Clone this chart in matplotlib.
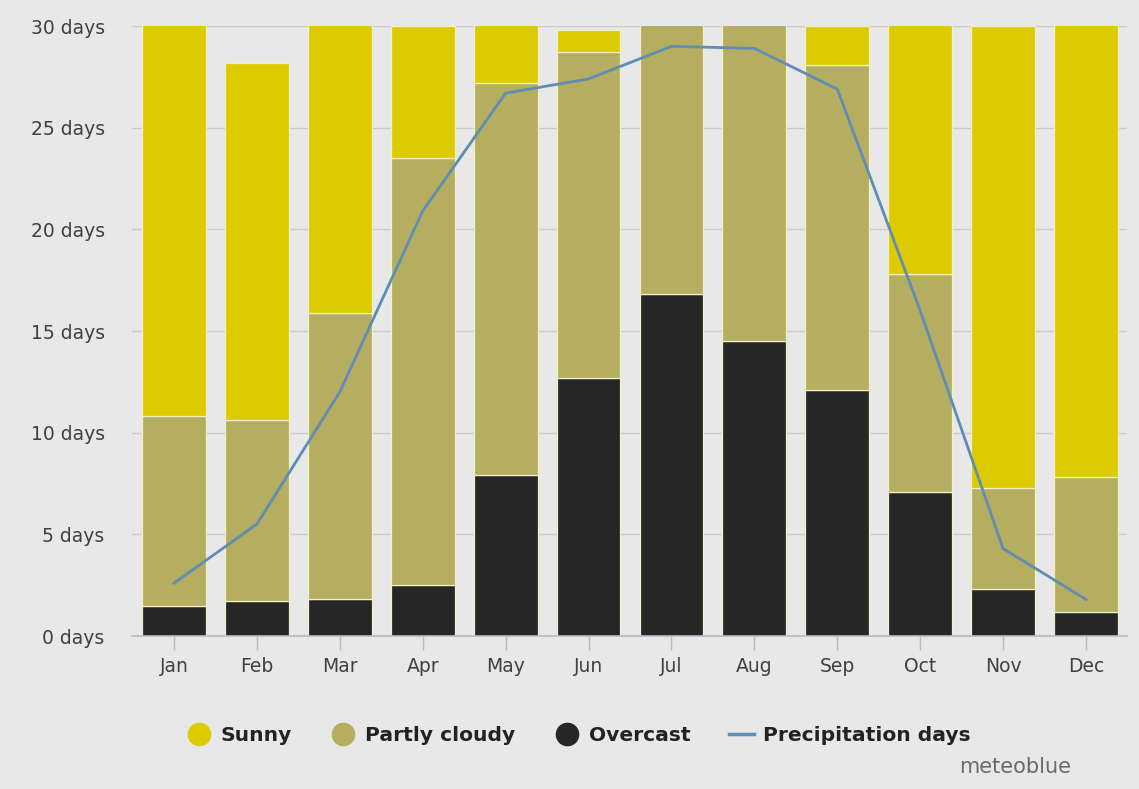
import matplotlib
matplotlib.use("Agg")
import matplotlib.pyplot as plt
from matplotlib.lines import Line2D
import numpy as np

months = ['Jan', 'Feb', 'Mar', 'Apr', 'May', 'Jun', 'Jul', 'Aug', 'Sep', 'Oct', 'Nov', 'Dec']
overcast = [1.5, 1.7, 1.8, 2.5, 7.9, 12.7, 16.8, 14.5, 12.1, 7.1, 2.3, 1.2]
partly_cloudy = [9.3, 8.9, 14.1, 21.0, 19.3, 16.0, 14.2, 16.5, 16.0, 10.7, 5.0, 6.6]
sunny = [20.2, 17.6, 15.1, 6.5, 3.8, 1.1, 0.0, 0.0, 1.9, 13.2, 22.7, 23.2]
precipitation = [2.6, 5.5, 12.0, 20.9, 26.7, 27.4, 29.0, 28.9, 26.9, 16.0, 4.3, 1.8]
yticks = [0, 5, 10, 15, 20, 25, 30]

BG = '#e8e8e8'
C_SUNNY = '#dbcb00'
C_PARTLY = '#b5ad5f'
C_OVER = '#262626'
C_LINE = '#5f8db5'

plt.rcParams['font.family'] = ['DejaVu Sans']

fig = plt.figure(figsize=(11.39, 7.89), dpi=100, facecolor=BG)
ax = fig.add_axes([0.1163, 0.1939, 0.8736, 0.7731])
ax.set_facecolor(BG)

x = np.arange(len(months))
w = 0.77
ov = np.array(overcast)
pc = np.array(partly_cloudy)
sn = np.array(sunny)
edge = dict(edgecolor='#f3f0c8', linewidth=0.9)
ax.bar(x, ov, w, color=C_OVER, zorder=2, **edge)
ax.bar(x, pc, w, bottom=ov, color=C_PARTLY, zorder=2, **edge)
ax.bar(x, sn, w, bottom=ov + pc, color=C_SUNNY, zorder=2, **edge)
ax.plot(x, precipitation, color=C_LINE, lw=2.0, zorder=3, solid_joinstyle='round')

ax.set_xlim(-0.5, len(months) - 0.5)
ax.set_ylim(0, 30)
ax.set_yticks(yticks)
ax.set_yticklabels([f'{v} days' for v in yticks])
ax.set_xticks(x)
ax.set_xticklabels(months)
ax.grid(axis='y', color='#cbcbcb', lw=1.0, zorder=0)
for s in ['top', 'right', 'left']:
    ax.spines[s].set_visible(False)
ax.spines['bottom'].set_color('#b8b8c8')
ax.spines['bottom'].set_linewidth(1.2)
ax.tick_params(axis='y', length=0, pad=20, labelsize=13.5, labelcolor='#404040')
ax.tick_params(axis='x', length=10, width=1, color='#b8b8c8', pad=5, labelsize=13.5, labelcolor='#404040')

handles = [
    Line2D([], [], marker='o', ls='none', color=C_SUNNY, markersize=16),
    Line2D([], [], marker='o', ls='none', color=C_PARTLY, markersize=16),
    Line2D([], [], marker='o', ls='none', color=C_OVER, markersize=16),
    Line2D([], [], color=C_LINE, lw=2.5),
]
labels = ['Sunny', 'Partly cloudy', 'Overcast', 'Precipitation days']
leg = fig.legend(handles, labels, loc='center', bbox_to_anchor=(0.508, 0.068), ncol=4,
                 frameon=False, handlelength=1.25, handletextpad=0.45, columnspacing=1.9,
                 prop={'weight': 'bold', 'size': 14.6})
for t in leg.get_texts():
    t.set_color('#222222')

fig.text(0.94, 0.028, 'meteoblue', ha='right', va='center', fontsize=15, color='#6a6a6a')

fig.savefig('out.png', dpi=100, facecolor=BG)
